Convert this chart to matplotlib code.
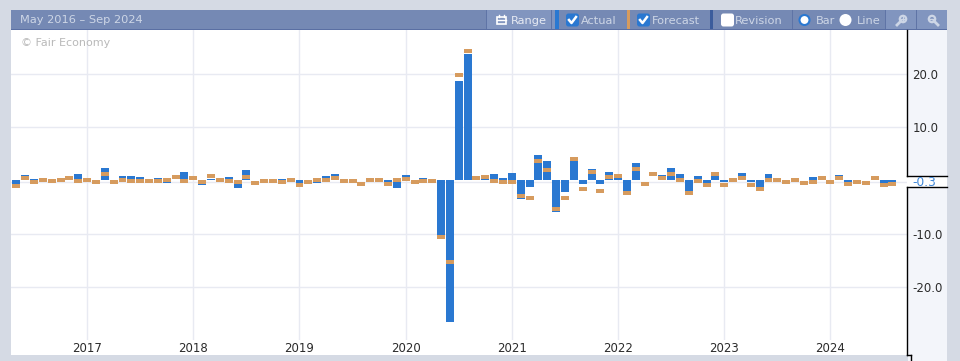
import matplotlib
matplotlib.use('Agg')
import matplotlib.pyplot as plt
from matplotlib.lines import Line2D
from matplotlib.patches import Rectangle, Circle, FancyBboxPatch

# Monthly values, May 2016 onwards
actual = [-0.7, 1.0, 0.3, 0.0, -0.1, 0.0, 0.1, 1.2, 0.0, -0.2,
          2.3, 0.0, 0.8, 0.8, 0.65, 0.0, 0.45, -0.45, 0.1, 1.6,
          0.1, -0.8, 0.3, 0.0, 0.65, -1.4, 2.0, 0.1, 0.0, 0.0,
          0.3, 0.0, -0.5, -0.1, -0.45, 0.8, 1.2, 0.0, 0.0, 0.1,
          0.0, 0.0, -0.3, -1.4, 1.0, 0.0, 0.45, 0.0, -10.4, -26.5,
          18.7, 23.7, 0.1, 0.3, 1.2, 0.45, 1.4, -3.45, -1.2, 4.8,
          3.65, -5.9, -2.15, 3.65, -0.65, 2.15, -0.65, 1.6, 0.6, -2.0,
          3.3, 0.05, 0.0, 1.0, 2.3, 1.2, -2.8, 0.85, -0.45, 0.8,
          -0.3, 0.0, 1.4, -0.3, -1.2, 1.2, 0.0, 0.0, 0.0, 0.1,
          0.65, 0.1, 0.0, 1.0, -0.3, 0.1, 0.1, 0.1, -0.5, -0.3]
forecast = [-1.0, 0.45, -0.3, 0.1, -0.1, 0.1, 0.45, -0.1, 0.1, -0.3,
            1.2, -0.3, 0.1, -0.1, -0.1, -0.1, -0.1, 0.1, 0.65, -0.1,
            0.45, -0.3, 0.8, 0.1, -0.1, -0.3, 0.65, -0.45, -0.1, -0.1,
            -0.3, 0.1, -0.85, -0.3, 0.1, 0.1, 0.45, -0.1, -0.1, -0.6,
            0.1, 0.1, -0.6, 0.1, 0.3, -0.3, -0.1, -0.1, -10.6, -15.3,
            19.8, 24.3, 0.47, 0.65, -0.1, -0.3, -0.3, -2.9, -3.3, 3.65,
            2.0, -5.3, -3.3, 4.0, -1.6, 1.6, -2.0, 0.65, 0.85, -2.3,
            2.15, -0.65, 1.2, 0.45, 1.2, 0.1, -2.3, -0.1, -0.85, 1.2,
            -0.85, 0.1, 0.45, -0.85, -1.6, 0.1, 0.1, -0.3, 0.1, -0.45,
            -0.3, 0.45, -0.3, 0.45, -0.6, -0.3, -0.45, 0.45, -0.85, -0.6]
years = [2017, 2018, 2019, 2020, 2021, 2022, 2023, 2024]
y_ticks = [-20, -10, 10, 20]
latest = -0.3

W, H = 960, 361
BLUE = '#2a78d1'
ORANGE = '#d69b5e'
DARK = '#3b5c9c'
GRID = '#e8eaf2'
HEAD = '#7589b4'
LIGHT = '#8195bf'
TXT = '#cdd6e6'

plt.rcParams['font.family'] = 'DejaVu Sans'
fig = plt.figure(figsize=(W / 100, H / 100), dpi=100, facecolor='#d5dae4')

# Page chrome is drawn on a full figure axes in pixel coordinates
bg = fig.add_axes([0, 0, 1, 1])
bg.set_xlim(0, W)
bg.set_ylim(H, 0)
bg.axis('off')


def box(x0, y0, x1, y1, color):
    bg.add_patch(Rectangle((x0, y0), x1 - x0, y1 - y0, fc=color, ec='none'))


def check(x, y, on=True):
    bg.add_patch(FancyBboxPatch((x + 2, y + 2), 9, 9, boxstyle='round,pad=2,rounding_size=2.5',
                                fc=BLUE if on else 'white', ec='none'))
    if on:
        bg.plot([x + 3, x + 5.5, x + 10], [y + 6.5, y + 9.5, y + 3.5], c='white', lw=1.8)


def glass(x, y, side):
    # side is the way the handle leans; the plus only sits on the first button
    bg.add_patch(Circle((x, y), 3.2, fc='none', ec=TXT, lw=1.6))
    bg.plot([x + side * 2, x + side * 6], [y + 2, y + 6], c=TXT, lw=2)
    bg.plot([x - 2, x + 2], [y, y], c=TXT, lw=1)
    if side < 0:
        bg.plot([x, x], [y - 2, y + 2], c=TXT, lw=1)


box(11, 30, 947, 355, 'white')
box(908, 30, 947, 361, '#f3f5fa')
box(0, 355, 908, 361, '#d5dae4')

# Header bar
box(11, 10, 947, 30, HEAD)
box(11, 29, 947, 30, '#5a6fa3')
box(487, 10, 555, 29, LIGHT)
box(886, 10, 947, 29, LIGHT)
for sx in [486, 551, 792, 885, 916]:
    box(sx, 10, sx + 1, 29, '#5f74a6')
box(555, 10, 559, 29, BLUE)
box(627, 10, 630, 29, ORANGE)
box(710, 10, 713, 29, DARK)

bg.text(20, 20, 'May 2016 – Sep 2024', color=TXT, fontsize=8.2, va='center')
bg.add_patch(Rectangle((497, 16.5), 9, 7, fc='none', ec='white', lw=1.2))
bg.plot([497, 506], [19.5, 19.5], c='white', lw=1)
bg.plot([499, 499], [14.5, 16.5], c='white', lw=1)
bg.plot([504, 504], [14.5, 16.5], c='white', lw=1)
bg.text(511, 20.5, 'Range', color='#e6eaf3', fontsize=8.2, va='center')
check(566, 13.5)
bg.text(581, 20.5, 'Actual', color=TXT, fontsize=8.2, va='center')
check(637, 13.5)
bg.text(652, 20.5, 'Forecast', color=TXT, fontsize=8.2, va='center')
check(721, 13.5, on=False)
bg.text(735, 20.5, 'Revision', color=TXT, fontsize=8.2, va='center')
bg.add_patch(Circle((804.5, 20), 5, fc='white', ec=BLUE, lw=1.5))
bg.text(816, 20.5, 'Bar', color=TXT, fontsize=8.2, va='center')
bg.add_patch(Circle((845.5, 20), 6, fc='white', ec='none'))
bg.text(857, 20.5, 'Line', color=TXT, fontsize=8.2, va='center')
glass(903, 19, -1)
glass(932, 19, 1)

# Main chart, same pixel scale as the reference
ax = fig.add_axes([11 / W, 1 - 340 / H, (907 - 11) / W, (340 - 30) / H], facecolor='none')
x = range(len(actual))
ax.set_xlim(-0.6, 100.65)
ax.set_ylim(-29.9, 28.2)
for v in y_ticks:
    ax.axhline(v, c=GRID, lw=1, zorder=1)
ax.axhline(latest, c=GRID, lw=1, zorder=1)
xt = [(y - 2016) * 12 - 4 for y in years]
for v in xt:
    ax.axvline(v, c=GRID, lw=1, zorder=1)
ax.bar(x, actual, width=0.9, color=BLUE, zorder=2)
ax.bar(x, [0.78] * len(forecast), bottom=[f - 0.39 for f in forecast], width=0.9,
       color=ORANGE, zorder=3)

ax.yaxis.tick_right()
ax.set_yticks(y_ticks)
ax.set_yticklabels(['%.1f' % v for v in y_ticks])
ax.set_xticks(xt)
ax.set_xticklabels([str(y) for y in years])
ax.tick_params(axis='both', length=0, labelsize=8.5, labelcolor='#2b2b2b')
ax.tick_params(axis='x', pad=1.5)
ax.tick_params(axis='y', pad=4)
for s in ax.spines.values():
    s.set_visible(False)
ax.text(21, 43, '© Fair Economy', color='#b9b9b9', fontsize=8, va='center',
        transform=bg.transData)

# Right border with the box around the latest value
bg.set_zorder(0)
ax.set_zorder(1)
over = [([907, 907], [30, 176]), ([907, 947], [176, 176]), ([907, 947], [187, 187]),
        ([907, 907], [187, 355]), ([907, 911], [355, 355]), ([911, 911], [355, 361])]
for xs, ys in over:
    ax.add_line(Line2D(xs, ys, c='black', lw=1, transform=bg.transData, clip_on=False, zorder=5))
ax.add_patch(Rectangle((908, 176.5), 39, 10.5, fc='white', ec='none',
                       transform=bg.transData, clip_on=False, zorder=4))
ax.text(912, 182, '%.1f' % latest, color='#3f87d8', fontsize=8.8, va='center',
        transform=bg.transData, clip_on=False, zorder=6)

fig.savefig('out.png', dpi=100, facecolor=fig.get_facecolor())
